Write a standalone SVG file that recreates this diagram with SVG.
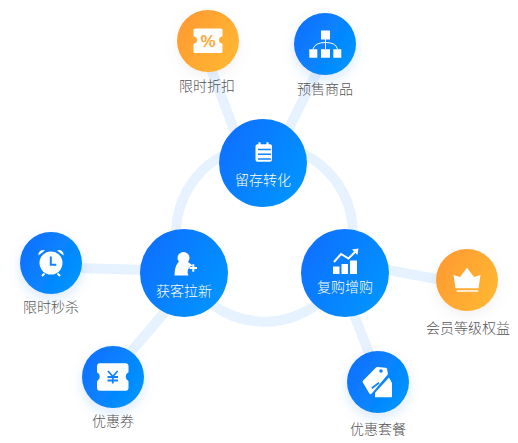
<svg xmlns="http://www.w3.org/2000/svg" width="518" height="443" viewBox="0 0 518 443">
<defs>
<linearGradient id="b" x1="0" y1="0.2" x2="1" y2="0.8"><stop offset="0" stop-color="#0f6fff"/><stop offset="1" stop-color="#0096ff"/></linearGradient>
<linearGradient id="o" x1="0" y1="0.2" x2="1" y2="0.8"><stop offset="0" stop-color="#ff9a33"/><stop offset="1" stop-color="#ffb833"/></linearGradient>
<filter id="sb" x="-40%" y="-40%" width="180%" height="190%"><feDropShadow dx="0" dy="5" stdDeviation="6" flood-color="#2a7dff" flood-opacity="0.17"/></filter>
<filter id="so" x="-40%" y="-40%" width="180%" height="190%"><feDropShadow dx="0" dy="5" stdDeviation="6" flood-color="#999" flood-opacity="0.13"/></filter>
</defs>
<style>
text{font-family:"Noto Sans CJK SC","Noto Sans",sans-serif;text-anchor:middle;font-weight:300}
.l{font-size:14px;fill:#555}
.t{font-size:14px;fill:#fff}
.c{fill:none;stroke:#e6f2ff;stroke-width:10}
.i{fill:#fff}
</style>
<rect width="518" height="443" fill="#fff"/>
<g id="connectors">
<circle class="c" cx="264.500" cy="233.300" r="88.400"/>
<path class="c" d="M210 66L236 135M318 70L288 130M75 268L150 270M128 355L165 312M353 312L370 356M380 268.500L442 280"/>
</g>
<g id="n-liucun"><circle cx="263" cy="163" r="44" fill="url(#b)"/>
<path class="i" d="M258 144.300h.500v-2h2v2h6v-2h2v2h1.500a2 2 0 0 1 2 2v13.400a2 2 0 0 1-2 2h-12.500a2 2 0 0 1-2-2v-13.400a2 2 0 0 1 2-2z"/>
<path d="M258 149.500h13M258 154.200h13M258 159h13" stroke="#1183ff" stroke-width="1.500"/>
<text class="t" x="263" y="185">留存转化</text></g>
<g id="n-huoke"><circle cx="184" cy="273" r="44" fill="url(#b)"/>
<circle class="i" cx="183.500" cy="258" r="6"/>
<path class="i" d="M179 262h9q3 2 5 4l-2 0a7 7 0 0 0-2.500 9.500h-14q0-9 4-13.500z"/>
<path d="M189.500 268h7.500M193.300 264.300v7.500" stroke="#fff" stroke-width="2"/>
<text class="t" x="184" y="296">获客拉新</text></g>
<g id="n-fugou"><circle cx="345" cy="273" r="44" fill="url(#b)"/>
<path class="i" d="M333 266.500h6.500v7.500h-6.500zM341.500 264h6.500v10h-6.500zM350 260.500h7v13.500h-7z"/>
<path d="M334 262l7-8 7.500 4.500 8-8" fill="none" stroke="#fff" stroke-width="2"/><path class="i" d="M352 249.500l6.500-1-1 6.500z"/>
<text class="t" x="345" y="292">复购增购</text></g>
<g id="n-zhekou"><circle cx="208" cy="41" r="31" fill="url(#o)" filter="url(#so)"/>
<path class="i" d="M195 28.500h26a1.500 1.500 0 0 1 1.500 1.500v6.500a3.500 3.500 0 0 0 0 7v8a1.500 1.500 0 0 1-1.500 1.500h-26a1.500 1.500 0 0 1-1.500-1.500v-8a3.500 3.500 0 0 0 0-7v-6.500a1.500 1.500 0 0 1 1.500-1.500z"/>
<text x="208" y="47" font-size="17" fill="#ffa733" style="font-family:'Liberation Sans',sans-serif;font-weight:700">%</text>
<text class="l" x="207" y="91">限时折扣</text></g>
<g id="n-yushou"><circle cx="325" cy="44" r="31" fill="url(#b)" filter="url(#sb)"/>
<path class="i" d="M321 30.500h9v9h-9zM309.300 49.300h8v8.500h-8zM321 49.300h9v8.500h-9zM333.300 49.300h8v8.500h-8z"/>
<path d="M325.500 39v10M313 49q2-6.500 12.500-6.500t12 6.500" fill="none" stroke="#fff" stroke-width="1"/>
<text class="l" x="325" y="94">预售商品</text></g>
<g id="n-miaosha"><circle cx="51" cy="263" r="31" fill="url(#b)" filter="url(#sb)"/>
<circle cx="51" cy="263" r="11.500" class="i"/>
<path d="M50.800 256.500v8.200h5.500" fill="none" stroke="#1183ff" stroke-width="2"/>
<path class="i" d="M38.500 255.500a4.500 4.500 0 0 1 6.500-5zM63.500 255.500a4.500 4.500 0 0 0-6.500-5z"/>
<path d="M42 276l2.500-2.500M60 276l-2.500-2.500" stroke="#fff" stroke-width="2"/>
<text class="l" x="51" y="312">限时秒杀</text></g>
<g id="n-youhui"><circle cx="113" cy="377" r="31" fill="url(#b)" filter="url(#sb)"/>
<path class="i" d="M100 363.300h25.500a3 3 0 0 1 3 3v6a5 5 0 0 0 0 9v6.400a3 3 0 0 1-3 3h-25.500a3 3 0 0 1-3-3v-6.400a5 5 0 0 0 0-9v-6a3 3 0 0 1 3-3z"/>
<path d="M108 371l4.800 5.500 4.800-5.500M112.800 376.500v7M107.500 377h10.500M107.500 380.500h10.500" fill="none" stroke="#1183ff" stroke-width="1.800"/>
<text class="l" x="113" y="426">优惠券</text></g>
<g id="n-taocan"><circle cx="378" cy="382" r="31" fill="url(#b)" filter="url(#sb)"/>
<path class="i" d="M389 377.500l3 5.500v14.300h-17v-4.500z"/>
<path class="i" d="M376 367.500a2 2 0 0 1 1.500-.5l8 .8a2 2 0 0 1 1.500 1l1 5.500-16.500 19.500a1.500 1.500 0 0 1-2 0l-6.500-11a1.500 1.500 0 0 1 0-2z"/>
<path d="M371.800 388.300l7.200-5.600" stroke="#1183ff" stroke-width="1.800"/>
<circle cx="381" cy="371" r="1.800" fill="#1183ff"/>
<text class="l" x="378" y="434">优惠套餐</text></g>
<g id="n-huiyuan"><circle cx="467" cy="280" r="31" fill="url(#o)" filter="url(#so)"/>
<path class="i" d="M453.500 275l6.500 2 7-9.300 7 9.300 6.500-2-2 13.300h-23z"/>
<path d="M456.700 291h21.600" stroke="#fff" stroke-width="1.500"/>
<text class="l" x="468" y="333">会员等级权益</text></g>
</svg>
